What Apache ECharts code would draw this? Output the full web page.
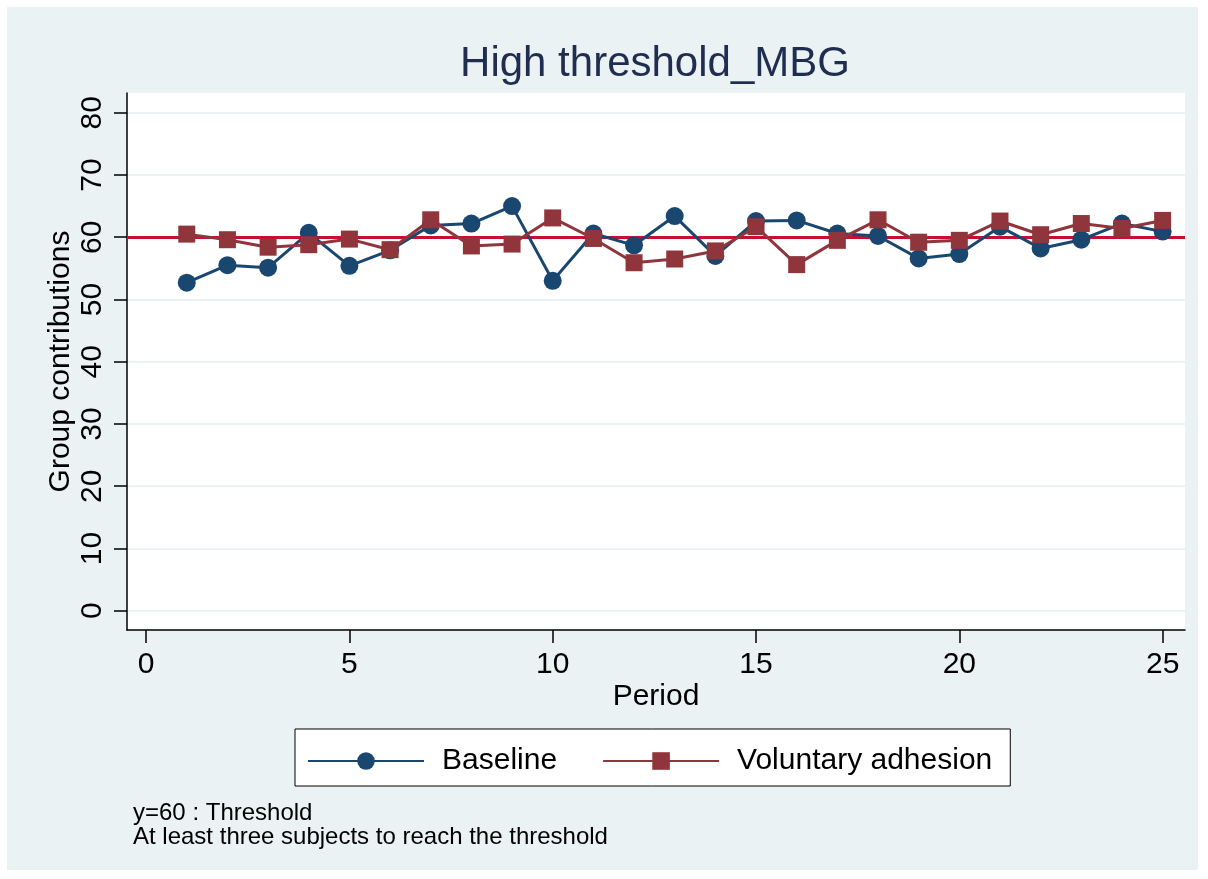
<!DOCTYPE html>
<html>
<head>
<meta charset="utf-8">
<script src="https://cdn.jsdelivr.net/npm/echarts@6/dist/echarts.min.js"></script>
<style>
html,body{margin:0;padding:0;background:#fff;}
#chart{width:1208px;height:879px;}
</style>
</head>
<body>
<div id="chart"></div>
<script>
const periods = [1,2,3,4,5,6,7,8,9,10,11,12,13,14,15,16,17,18,19,20,21,22,23,24,25];
const baseline = [52.7,55.5,55.1,60.7,55.4,57.9,61.9,62.2,65.0,53.0,60.6,58.7,63.4,57.0,62.6,62.7,60.6,60.2,56.6,57.3,61.7,58.2,59.6,62.2,60.9];
const voluntary = [60.5,59.6,58.4,58.8,59.7,58.0,62.8,58.6,58.9,63.1,59.8,55.9,56.5,57.8,61.7,55.6,59.5,62.8,59.2,59.5,62.6,60.4,62.2,61.4,62.7];
const xTicks = [0,5,10,15,20,25];
const yTicks = [0,10,20,30,40,50,60,70,80];
const threshold = 60;
const titleText = 'High threshold_MBG';
const notes = ['y=60 : Threshold', 'At least three subjects to reach the threshold'];

const FONT = 'Liberation Sans, Arial, sans-serif';
const chart = echarts.init(document.getElementById('chart'), null, {renderer:'canvas'});

const pairs = (ys) => periods.map((p,i) => [p, ys[i]]);

chart.setOption({
  backgroundColor: '#ffffff',
  animation: false,
  textStyle: {fontFamily: FONT},
  graphic: [
    {type:'rect', z:-10, shape:{x:7,y:7,width:1191,height:863}, style:{fill:'#eaf2f3'}},
    {type:'text', style:{x:655, y:64, text:titleText, fill:'#1e2d50', font:'42px ' + FONT, textAlign:'center', textVerticalAlign:'middle'}},
    {type:'text', style:{x:133, y:813, text:notes[0], fill:'#000', font:'24px ' + FONT, textAlign:'left', textVerticalAlign:'middle'}},
    {type:'text', style:{x:133, y:837, text:notes[1], fill:'#000', font:'24px ' + FONT, textAlign:'left', textVerticalAlign:'middle'}}
  ],
  grid: {left:127, right:23, top:93, bottom:249, show:true, backgroundColor:'#ffffff', borderWidth:0},
  legend: {
    left:295, top:729,
    backgroundColor:'#ffffff', borderColor:'#000', borderWidth:1,
    padding:[17,18,10,12],
    itemWidth:116, itemHeight:22, itemGap:45,
    textStyle:{fontSize:30, color:'#000', fontFamily:FONT, padding:[0,0,0,13]},
    data:['Baseline','Voluntary adhesion']
  },
  xAxis: {
    type:'value', min:-0.47, max:25.55,
    name:'Period', nameLocation:'middle', nameGap:52, nameMoveOverlap:false,
    nameTextStyle:{fontSize:30, color:'#000'},
    axisLine:{show:true, onZero:false, lineStyle:{color:'#000', width:1.5}},
    axisTick:{show:true, length:13, customValues:xTicks, lineStyle:{color:'#000', width:1.5}},
    axisLabel:{fontSize:30, color:'#000', margin:20, customValues:xTicks},
    splitLine:{show:false}
  },
  yAxis: {
    type:'value', min:-3.1, max:83.17,
    name:'Group contributions', nameLocation:'middle', nameGap:51, nameRotate:90, nameMoveOverlap:false,
    nameTextStyle:{fontSize:30, color:'#000'},
    axisLine:{show:true, onZero:false, lineStyle:{color:'#000', width:1.5}},
    axisTick:{show:true, length:13, customValues:yTicks, lineStyle:{color:'#000', width:1.5}},
    axisLabel:{fontSize:30, color:'#000', margin:19, rotate:90, customValues:yTicks},
    splitLine:{show:true, lineStyle:{color:'#eaf2f3', width:2}}
  },
  series: [
    {
      name:'Baseline', type:'line', data:pairs(baseline),
      symbol:'circle', symbolSize:18,
      lineStyle:{color:'#1a476f', width:3},
      itemStyle:{color:'#1a476f'},
      z:3,
      markLine:{
        silent:true, symbol:['none','none'], label:{show:false},
        lineStyle:{color:'#c8102e', width:3, type:'solid'},
        data:[{yAxis:threshold}],
        z:1
      }
    },
    {
      name:'Voluntary adhesion', type:'line', data:pairs(voluntary),
      symbol:'rect', symbolSize:17,
      lineStyle:{color:'#90353b', width:3},
      itemStyle:{color:'#90353b'},
      z:4
    }
  ]
});
</script>
</body>
</html>
